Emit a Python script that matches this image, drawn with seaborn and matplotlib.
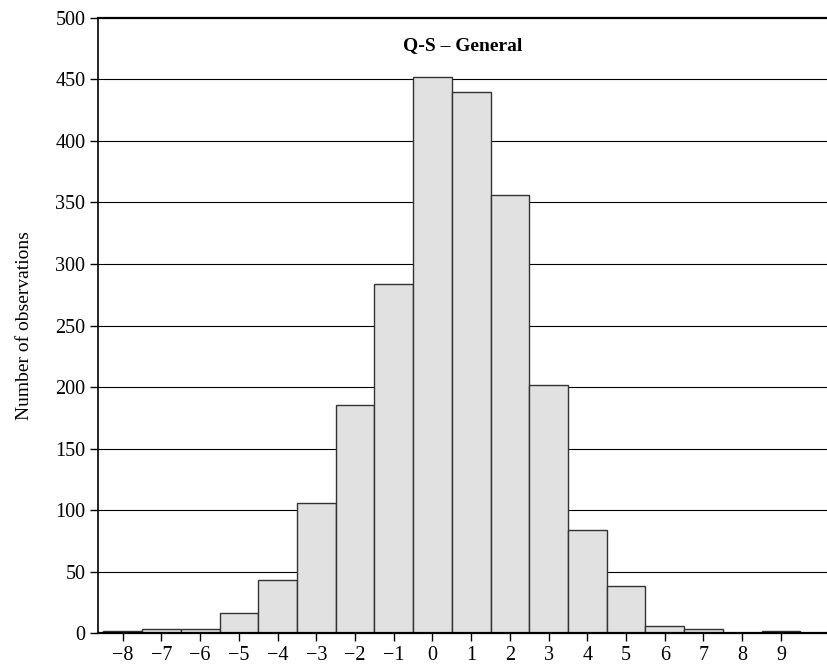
import matplotlib
matplotlib.use("Agg")
import matplotlib.pyplot as plt
import seaborn as sns
import pandas as pd

bins = [-8, -7, -6, -5, -4, -3, -2, -1, 0, 1, 2, 3, 4, 5, 6, 7, 8, 9]
counts = [2, 3, 3, 16, 43, 106, 185, 284, 452, 440, 356, 202, 84, 38, 6, 3, 0, 2]
yticks = [0, 50, 100, 150, 200, 250, 300, 350, 400, 450, 500]
title = "Q-S – General"
ylabel = "Number of observations"

sns.set_theme(style="white")
plt.rcParams['font.family'] = ['Liberation Serif', 'DejaVu Serif']
plt.rcParams['text.color'] = 'black'
plt.rcParams['axes.labelcolor'] = 'black'
plt.rcParams['xtick.color'] = 'black'
plt.rcParams['ytick.color'] = 'black'

df = pd.DataFrame({"bin": bins, "count": counts})

fig = plt.figure(figsize=(8.27, 6.66), dpi=100)
ax = fig.add_axes([0.1185, 0.0495, 0.8815, 0.9235])

for y in yticks[1:-1]:
    ax.axhline(y, color="black", lw=0.8, zorder=0)

sns.barplot(data=df, x="bin", y="count", native_scale=True, width=1,
            color="#e1e1e1", edgecolor="#333333", linewidth=1.0,
            saturation=1, ax=ax, zorder=2)

ax.set_xlim(-8.64, 10.19)
ax.set_ylim(0, 500)
ax.set_xticks(bins)
ax.set_xticklabels([str(b).replace("-", "\u2212") for b in bins])
ax.set_yticks(yticks)
ax.set_xlabel("")
ax.set_ylabel(ylabel, fontsize=14, labelpad=16)
ax.tick_params(axis="both", labelsize=14.5, length=6, width=1, color="black",
               labelcolor="black", direction="out", bottom=True, left=True, pad=3)
ax.spines["right"].set_visible(False)
ax.spines["top"].set_linewidth(1.6)
ax.spines["left"].set_linewidth(1.2)
ax.spines["bottom"].set_linewidth(1.6)
for s in ["top", "left", "bottom"]:
    ax.spines[s].set_color("black")

ax.text(0.5, 0.955, title, transform=ax.transAxes, ha="center", va="center",
        fontsize=14, fontweight="bold", color="black")

fig.savefig("out.png", dpi=100)
